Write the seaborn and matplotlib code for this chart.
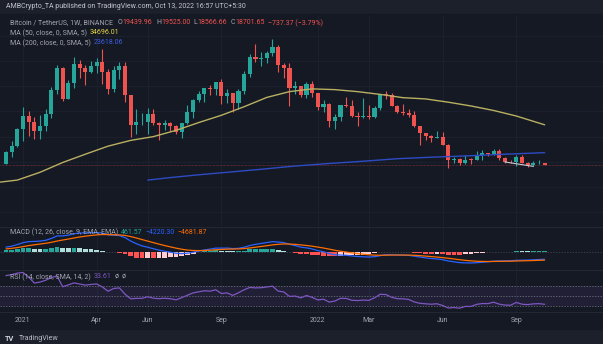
import numpy as np
import pandas as pd
import matplotlib
matplotlib.use("Agg")
import matplotlib.pyplot as plt
import seaborn as sns

# ---------------- data (weekly BTC/USDT candles) ----------------
first_week = "2020-12-14"
opens = [19150, 23780, 26260, 33000, 38150, 35830, 32260, 34260, 38900, 48580,
         57490, 45140, 51200, 59000, 57350, 55800, 58200, 59750, 55700, 49100,
         56600, 58250, 46430, 34700, 35650, 35800, 39100, 35600, 34500, 35300,
         34250, 31800, 35400, 39850, 44600, 47100, 49300, 48800, 51750, 46000,
         47250, 43200, 48200, 54960, 61530, 60850, 61300, 63270, 65500, 58600,
         57270, 49400, 50100, 46700, 50800, 47300, 41850, 43080, 36250, 37900,
         42400, 42200, 38350, 37700, 38400, 37800, 41260, 46800, 46400, 42150,
         39700, 39450, 38470, 34060, 31300, 30290, 29450, 29900, 26580, 20550,
         21030, 19300, 20850, 20800, 22580, 23300, 23170, 24300, 21500, 20050,
         19800, 21850, 19400, 18800, 19300, 19440]
highs = [24200, 28400, 33300, 41950, 40100, 37850, 38530, 40950, 49700, 58350,
         57530, 52640, 61800, 60600, 58600, 60200, 61300, 64850, 57000, 58000,
         59600, 59600, 46600, 40900, 39500, 41300, 41000, 36000, 36600, 35950,
         34700, 35400, 42600, 44800, 48150, 49400, 50500, 51000, 52900, 48850,
         47400, 49000, 56100, 62900, 67000, 63700, 64270, 69000, 66300, 59300,
         59200, 51950, 50200, 51900, 52100, 47500, 44450, 43500, 38900, 42650,
         45850, 44750, 39800, 45400, 42600, 42300, 47000, 48200, 47400, 42400,
         42950, 40800, 40000, 34250, 31350, 30650, 32400, 31700, 26900, 21860,
         21550, 22500, 21650, 24300, 24650, 23650, 25200, 25100, 21900, 20600,
         22500, 22800, 19950, 20350, 20500, 19525]
lows = [19000, 21800, 26000, 28130, 30420, 28850, 29240, 32300, 37350, 47100,
        44000, 45000, 49150, 53300, 50430, 55500, 55450, 51000, 47000, 47700,
        52900, 43800, 30000, 31100, 34800, 31000, 34800, 28800, 32700, 32100,
        31000, 29300, 35200, 37500, 43800, 43900, 46400, 46500, 42800, 43400,
        39600, 40800, 46900, 53900, 59500, 58000, 59400, 62280, 55600, 53250,
        42000, 46850, 45700, 45550, 45700, 40600, 39650, 34000, 32900, 36300,
        41700, 38000, 34300, 37400, 37150, 37550, 40450, 44900, 42100, 39200,
        38500, 37700, 33700, 26700, 28700, 28000, 29300, 26550, 17600, 19600,
        18650, 19000, 18900, 20750, 20700, 22400, 22700, 20800, 19500, 19500,
        18500, 19600, 18100, 18400, 19000, 18566]
closes = [23780, 26260, 33000, 38150, 35830, 32260, 34260, 38900, 48580, 57490,
          45140, 51200, 59000, 57350, 55800, 58200, 59750, 55700, 49100, 56600,
          58250, 46430, 34700, 35650, 35800, 39100, 35600, 34500, 35300, 34250,
          31800, 35400, 39850, 44600, 47100, 49300, 48800, 51750, 46000, 47250,
          43200, 48200, 54960, 61530, 60850, 61300, 63270, 65500, 58600, 57270,
          49400, 50100, 46700, 50800, 47300, 41850, 43080, 36250, 37900, 42400,
          42200, 38350, 37700, 38400, 37800, 41260, 46800, 46400, 42150, 39700,
          39450, 38470, 34060, 31300, 30290, 29450, 29900, 26580, 20550, 21030,
          19300, 20850, 20800, 22580, 23300, 23170, 24300, 21500, 20050, 19800,
          21850, 19400, 18800, 19300, 19440, 18701]
# weekly closes before the visible window (indicator warm-up only)
warmup_closes = [9380, 9340, 9300, 9000, 9070, 9250, 9150, 9930, 11100, 11580,
                 11850, 11650, 11700, 10250, 10330, 10920, 10780, 10670, 11390,
                 11500, 13030, 13800, 15480, 15950, 18680, 18180, 19370, 19150]

# moving averages (week start, value)
ma50_weeks = ["2020-12-07", "2020-12-28", "2021-01-25", "2021-02-22", "2021-03-22",
              "2021-04-19", "2021-05-17", "2021-06-14", "2021-07-12", "2021-08-09",
              "2021-09-06", "2021-10-04", "2021-11-01", "2021-11-29", "2021-12-27",
              "2022-01-24", "2022-02-21", "2022-03-21", "2022-04-18", "2022-05-16",
              "2022-06-13", "2022-07-11", "2022-08-08", "2022-09-05", "2022-10-10"]
ma50_vals = [11900, 12700, 15800, 19700, 23000, 26200, 28500, 30000, 32500, 35600,
             38500, 41900, 45600, 47900, 49000, 48700, 47900, 46800, 45500, 45000,
             43700, 42200, 40400, 38200, 34696]
ma200_weeks = ["2021-06-07", "2021-07-05", "2021-08-09", "2021-09-20", "2021-10-25",
               "2021-12-06", "2022-01-17", "2022-02-28", "2022-04-11", "2022-05-23",
               "2022-07-04", "2022-08-15", "2022-10-10"]
ma200_vals = [12700, 13700, 14800, 16000, 17000, 18300, 19300, 20200, 21200, 21800,
              22300, 22900, 23618]
trend_weeks = ["2022-08-22", "2022-09-26"]
trend_vals = [19900, 18150]

tick_weeks = ["2021-01-04", "2021-04-05", "2021-06-07", "2021-09-06", "2022-01-03",
              "2022-03-07", "2022-06-06", "2022-09-05"]
tick_labels = ["2021", "Apr", "Jun", "Sep", "2022", "Mar", "Jun", "Sep"]

# ---------------- styling ----------------
BG = "#151924"
HEAD = "#1c202b"
GRID = "#1e2230"
TXT = "#a3a6af"
UP, DN = "#26a69a", "#ef5350"

sns.set_theme(style="dark", rc={"axes.facecolor": BG, "figure.facecolor": HEAD,
                                "axes.grid": False})
plt.rcParams["font.family"] = ["Roboto", "DejaVu Sans"]

W, H = 603, 344
fig = plt.figure(figsize=(W / 100, H / 100), dpi=100)

ref = pd.Timestamp("2021-01-04")
WEEK = pd.Timedelta(days=7)
def wk(d):
    return (pd.to_datetime(d) - ref) / WEEK

df = pd.DataFrame({"date": pd.date_range(first_week, periods=len(closes), freq="7D"),
                   "open": opens, "high": highs, "low": lows, "close": closes})
df["x"] = wk(df["date"])
df["up"] = df["close"] >= df["open"]

# indicators computed from the closes
allc = pd.Series(warmup_closes + closes, dtype=float)
ema12 = allc.ewm(span=12, adjust=False).mean()
ema26 = allc.ewm(span=26, adjust=False).mean()
macd = ema12 - ema26
signal = macd.ewm(span=9, adjust=False).mean()
hist = macd - signal
delta = allc.diff()
gain = delta.clip(lower=0).ewm(alpha=1 / 14, adjust=False).mean()
loss = (-delta.clip(upper=0)).ewm(alpha=1 / 14, adjust=False).mean()
rsi = 100 - 100 / (1 + gain / loss)
n0 = len(warmup_closes)
df["macd"] = macd.values[n0:]
df["signal"] = signal.values[n0:]
df["hist"] = hist.values[n0:]
df["rsi"] = rsi.values[n0:]
prev = hist.values[n0 - 1:-1]
hcol = []
for h, p in zip(df["hist"], prev):
    if h >= 0:
        hcol.append("#26a69a" if h > p else "#b2dfdb")
    else:
        hcol.append("#ff5252" if h < p else "#ffcdd2")

# pixel helpers
def rect(top, bottom, left=0, right=W):
    return [left / W, 1 - bottom / H, (right - left) / W, (bottom - top) / H]

XL = (-23 / 5.67, (W - 23) / 5.67)

# chart frame background (behind the panes)
fig.patches.append(plt.Rectangle((0, 1 - 329 / H), 1, (329 - 14) / H,
                                 transform=fig.transFigure, color=BG, zorder=-10))

ax = fig.add_axes(rect(15, 226))
axm = fig.add_axes(rect(227, 269))
axr = fig.add_axes(rect(270, 312))
for a in (ax, axm, axr):
    a.set_zorder(2)
    a.set_xlim(*XL)
    a.set_facecolor(BG)
    a.set_xticks([wk(t) for t in tick_weeks])
    a.set_xticklabels([])
    a.tick_params(length=0, labelsize=0)
    a.set_yticks([])
    for s in a.spines.values():
        s.set_visible(False)
    for t in tick_weeks:
        a.axvline(wk(t), color=GRID, lw=0.6, zorder=0)
for a in (axm, axr):
    a.spines["top"].set_visible(True)
    a.spines["top"].set_color("#232733")
    a.spines["top"].set_linewidth(0.8)
axr.spines["bottom"].set_visible(True)
axr.spines["bottom"].set_color("#232733")
axr.spines["bottom"].set_linewidth(0.8)

# ---- main pane ----
K = 398.0
ax.set_ylim(18701 - (226 - 165) * K, 18701 + (165 - 15) * K)
for lvl in range(0, 80000, 10000):
    ax.axhline(lvl, color=GRID, lw=0.6, zorder=0)
ax.axhline(closes[-1], color=DN, lw=0.5, alpha=0.55, ls=(0, (1, 1)), zorder=1)
cols = np.where(df["up"], UP, DN)
ax.vlines(df["x"], df["low"], df["high"], colors=cols, lw=0.8, zorder=2)
body_lo = np.minimum(df["open"], df["close"])
body_h = np.maximum(np.abs(df["close"] - df["open"]), 250)
ax.bar(df["x"], body_h, bottom=body_lo, width=0.72, color=cols, linewidth=0, zorder=3)
m50 = pd.DataFrame({"x": wk(pd.Series(ma50_weeks)), "v": ma50_vals})
m200 = pd.DataFrame({"x": wk(pd.Series(ma200_weeks)), "v": ma200_vals})
sns.lineplot(data=m50, x="x", y="v", ax=ax, color="#b9b062", lw=1.0, zorder=4)
sns.lineplot(data=m200, x="x", y="v", ax=ax, color="#2e4bc4", lw=1.0, zorder=4)
tr = pd.DataFrame({"x": wk(pd.Series(trend_weeks)), "v": trend_vals})
sns.lineplot(data=tr, x="x", y="v", ax=ax, color="#c8cbd4", lw=0.8, zorder=5)
ax.set_xlabel(""); ax.set_ylabel("")

# ---- MACD pane (auto-scaled like the platform: data max -> y=232.5, min -> y=263) ----
vmax = max(df["macd"].max(), df["signal"].max(), df["hist"].max())
vmin = min(df["macd"].min(), df["signal"].min(), df["hist"].min())
upp = (vmax - vmin) / (263 - 232.5)
axm.set_ylim(vmin - (269 - 263) * upp, vmax + (232.5 - 227) * upp)
axm.axhline(0, color="#787b86", lw=0.5, alpha=0.5, ls=(0, (2, 2)), zorder=1)
axm.bar(df["x"], df["hist"], width=0.85, color=hcol, linewidth=0, zorder=2)
sns.lineplot(data=df, x="x", y="macd", ax=axm, color="#2962ff", lw=0.9, zorder=3)
sns.lineplot(data=df, x="x", y="signal", ax=axm, color="#ff6d00", lw=0.9, zorder=3)
axm.set_xlabel(""); axm.set_ylabel("")

# ---- RSI pane ----
RK = (306 - 285.5) / 40.0
axr.set_ylim(70 - (312 - 285.5) / RK, 70 + (285.5 - 270) / RK)
axr.axhspan(30, 70, color="#7e57c2", alpha=0.11, lw=0, zorder=0)
for lvl in (70, 50, 30):
    axr.axhline(lvl, color="#787b86", lw=0.5, ls=(0, (2, 2)), zorder=1)
sns.lineplot(data=df, x="x", y="rsi", ax=axr, color="#7e57c2", lw=0.9, zorder=3)
axr.set_xlabel(""); axr.set_ylabel("")

# time axis labels
for t, lab in zip(tick_weeks, tick_labels):
    xp = 23 + wk(t) * 5.67
    fig.text(xp / W, 1 - 321 / H, lab, color=TXT, fontsize=5.0, ha="center", va="center")

# ---- texts ----
renderer = fig.canvas.get_renderer()
def rich(x, y, parts, size=5.0, weight="normal"):
    for s, c, gap in parts:
        t = fig.text(x / W, 1 - y / H, s, color=c, fontsize=size, ha="left", va="center",
                     zorder=5, weight=weight)
        x += t.get_window_extent(renderer).width + gap

rich(6, 7, [("AMBCrypto_TA published on TradingView.com, Oct 13, 2022 16:57 UTC+5:30", "#c3c6ce", 0)], 5.0)
rich(10, 23, [("Bitcoin / TetherUS, 1W, BINANCE", TXT, 5), ("O", TXT, 0), ("19439.96", DN, 3.5),
              ("H", TXT, 0), ("19525.00", DN, 3.5), ("L", TXT, 0), ("18566.66", DN, 3.5),
              ("C", TXT, 0), ("18701.65", DN, 3.5), ("\u2212737.37 (\u22123.79%)", DN, 0)])
rich(10, 33, [("MA (50, close, 0, SMA, 5)", TXT, 3), ("34696.01", "#e3d446", 0)])
rich(10, 43, [("MA (200, close, 0, SMA, 5)", TXT, 3), ("23618.06", "#3d5de0", 0)])
rich(10, 232, [("MACD (12, 26, close, 9, EMA, EMA)", TXT, 3), ("461.57", "#26a69a", 3),
               ("\u22124220.30", "#2962ff", 3), ("\u22124681.87", "#ff6d00", 0)])
rich(10, 277, [("RSI (14, close, SMA, 14, 2)", TXT, 3), ("33.61", "#7e57c2", 3),
               ("\u00f8", TXT, 3), ("\u00f8", TXT, 0)])
rich(5, 339, [("TV", "#d1d4dc", 2)], 5.3, "bold")
rich(19, 339, [("TradingView", "#b8bbc4", 0)], 5.1)

fig.savefig("out.png", dpi=100, facecolor=HEAD)
